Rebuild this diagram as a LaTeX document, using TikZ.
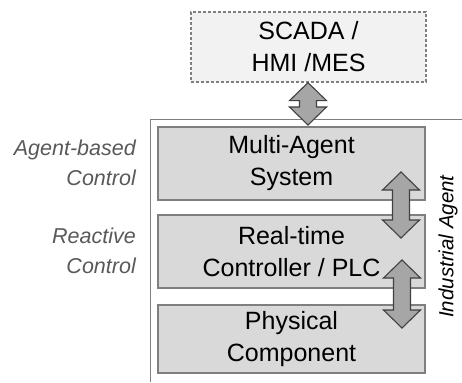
\documentclass[tikz,border=0pt]{standalone}
\usepackage{fontspec}
\setmainfont{Liberation Sans}
\usetikzlibrary{calc}
\definecolor{boxfill}{HTML}{D9D9D9}
\definecolor{boxline}{HTML}{7F7F7F}
\definecolor{topfill}{HTML}{F2F2F2}
\definecolor{arrfill}{HTML}{A6A6A6}
\definecolor{arrline}{HTML}{404040}
\definecolor{labelgray}{HTML}{595959}
\tikzset{
  layerbox/.style={draw=boxline, fill=boxfill, line width=1.4pt, minimum width=267pt,
    align=center, font=\fontsize{25}{32}\selectfont, inner sep=0pt},
  topbox/.style={draw=boxline, fill=topfill, line width=1.3pt, dash pattern=on 3pt off 2pt,
    minimum width=235pt, minimum height=70pt, align=center,
    font=\fontsize{25}{32}\selectfont, inner sep=0pt},
  sidelabel/.style={align=right, anchor=east, text=labelgray,
    font=\fontsize{21.5}{30}\selectfont\itshape, inner sep=0pt},
  arr/.style={draw=arrline, fill=arrfill, line width=1.1pt, line join=miter},
  frameline/.style={draw=boxline, line width=1pt}
}
% vertical double-headed block arrow between two named points
\newcommand\blockarrow[2]{%
  \path[arr] let \p1=(#1), \p2=(#2) in
    (\x1,\y1) -- (\x1+18.5pt,\y1-18pt) -- (\x1+8.5pt,\y1-18pt) --
    (\x1+8.5pt,\y2+18pt) -- (\x1+18.5pt,\y2+18pt) -- (\x2,\y2) --
    (\x1-18.5pt,\y2+18pt) -- (\x1-8.5pt,\y2+18pt) -- (\x1-8.5pt,\y1-18pt) --
    (\x1-18.5pt,\y1-18pt) -- cycle;}
\begin{document}
\begin{tikzpicture}[x=1pt,y=-1pt]
\useasboundingbox (0,0) rectangle (462,382);

% frame of the industrial agent
\draw[frameline] (462,120) -- (150,120) -- (150,382);

% layers
\node[topbox] (scada) at (308.5,47) {SCADA /\\HMI /MES};
\node[layerbox, minimum height=73pt] (mas) at (291.5,163.5) {Multi-Agent\\System};
\node[layerbox, minimum height=73pt] (plc) at (291.5,251.5) {Real-time\\Controller / PLC};
\node[layerbox, minimum height=68pt] (phys) at (291.5,339) {Physical\\Component};

% arrows between layers
\coordinate (a1t) at (scada.south -| 308,0);
\coordinate (a1b) at (308,125);
\coordinate (a2t) at (401,172);
\coordinate (a2b) at (401,238);
\coordinate (a3t) at (402,260);
\coordinate (a3b) at (402,328);
\blockarrow{a1t}{a1b}
\blockarrow{a2t}{a2b}
\blockarrow{a3t}{a3b}

% side labels
\node[sidelabel] (lab1) at (136,163) {Agent-based\\Control};
\node[sidelabel] (lab2) at (136,251) {Reactive\\Control};
\node[rotate=90, text=black, font=\fontsize{20.5}{24}\selectfont\itshape, inner sep=0pt]
  (ia) at (448,246.5) {Industrial Agent};
\end{tikzpicture}
\end{document}
